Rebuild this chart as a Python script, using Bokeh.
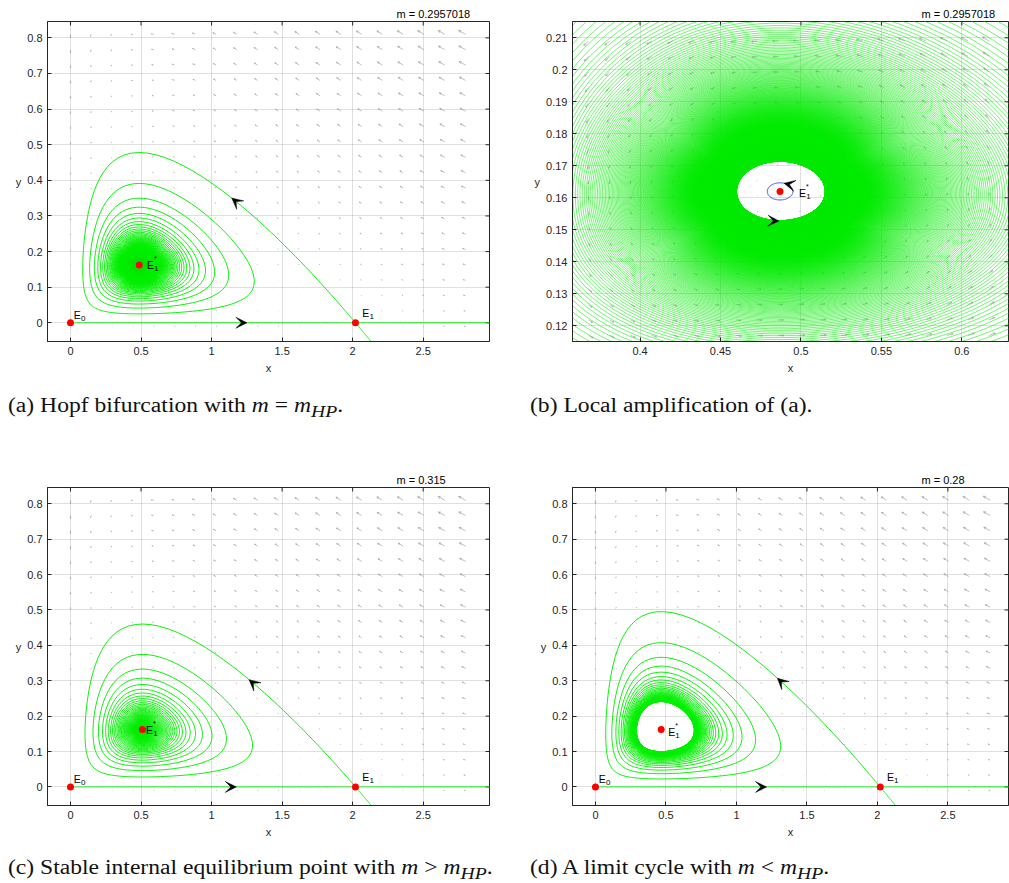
import time
import numpy as np
from bokeh.plotting import figure
from bokeh.layouts import column, row
from bokeh.models import Range1d, FixedTicker, Div, Arrow, VeeHead
from bokeh.core.properties import value
from bokeh.embed import file_html
from bokeh.resources import INLINE

# ------------------------------------------------------------------
# Values
# ------------------------------------------------------------------
m_values = [0.2957018, 0.2957018, 0.315, 0.28]            # panels a, b, c, d
m_texts = ["m = 0.2957018", "m = 0.2957018", "m = 0.315", "m = 0.28"]
caption_html = [
    "(a) Hopf bifurcation with <i>m</i> = <i>m</i><sub><i>HP</i></sub>.",
    "(b) Local amplification of (a).",
    "(c) Stable internal equilibrium point with <i>m</i> &gt; <i>m</i><sub><i>HP</i></sub>.",
    "(d) A limit cycle with <i>m</i> &lt; <i>m</i><sub><i>HP</i></sub>.",
]
E0_point = [0.0, 0.0]
E1_point = [2.02, 0.0]
E1_star_hopf = [0.487, 0.162]          # interior equilibrium at m = m_HP
E1_star_x = [0.487, 0.487, 0.51, 0.466]  # interior equilibrium x, per panel
E1_curve_slope = -0.47            # slope of the green curve through E1
hole_halfwidth_b = 0.028          # x half-width of the innermost green loop in (b)
blue_halfwidth_b = 0.008          # x half-width of the blue orbit in (b)
arrow_x_upper = [1.20, None, 1.31, 1.30]   # arrow on the curve leaving E1
arrow_x_axis = [1.23, None, 1.15, 1.18]    # arrow on the x axis
arrow_b_blue = [0.4895, 0.1645]
arrow_b_green = [0.4863, 0.1525]

x_ticks_full = [0, 0.5, 1, 1.5, 2, 2.5]
x_tick_labels_full = ["0", "0.5", "1", "1.5", "2", "2.5"]
y_ticks_full = [0, 0.1, 0.2, 0.3, 0.4, 0.5, 0.6, 0.7, 0.8]
y_tick_labels_full = ["0", "0.1", "0.2", "0.3", "0.4", "0.5", "0.6", "0.7", "0.8"]
x_ticks_zoom = [0.4, 0.45, 0.5, 0.55, 0.6]
x_tick_labels_zoom = ["0.4", "0.45", "0.5", "0.55", "0.6"]
y_ticks_zoom = [0.12, 0.13, 0.14, 0.15, 0.16, 0.17, 0.18, 0.19, 0.2, 0.21]
y_tick_labels_zoom = ["0.12", "0.13", "0.14", "0.15", "0.16", "0.17", "0.18", "0.19", "0.2", "0.21"]

x_range_full = [-0.163, 2.97]
x_range_d = [-0.163, 2.93]
y_range_full = [-0.0525, 0.846]
x_range_zoom = [0.358, 0.629]
y_range_zoom = [0.1151, 0.2151]

quiver_x_full = np.linspace(0.0, 2.8, 20)
quiver_y_full = np.linspace(-0.01, 0.81, 20)
quiver_x_zoom = np.linspace(0.368, 0.617, 20)
quiver_y_zoom = np.linspace(0.117, 0.209, 20)

# ------------------------------------------------------------------
# Predator-prey model whose parameters follow from the read values
# ------------------------------------------------------------------
m_hp = m_values[0]
K = E1_point[0]
xh, yh = E1_star_hopf
B = 1.0 / (K - 2.0 * xh)
Q = yh / ((1.0 - xh / K) * (1.0 + B * xh))
CA = m_hp / xh + m_hp * B


def death_rate(xstar):
    # predator loss rate that puts the interior equilibrium at xstar
    return CA * xstar / (1.0 + B * xstar)


def lam2(m):
    return CA * K / (1.0 + B * K) - m


R = lam2(m_hp) / (-E1_curve_slope * K / (Q * (1.0 + B * K)) - 1.0)
A = R / Q


def equilibrium(m):
    xs = m / (CA - m * B)
    return xs, Q * (1.0 - xs / K) * (1.0 + B * xs)


T0 = time.time()


def integrate(x, y, m, dt, nmax, xc=0.0, yc=None, amp_stop=None, max_loops=None,
              conv_tol=None, box=None, tlimit=22.0):
    X = [x]
    Y = [y]
    loops = 0
    last_amp = None
    h2 = dt * 0.5
    h6 = dt / 6.0
    for i in range(nmax):
        d = 1.0 + B * x
        k1x = R * x * (1.0 - x / K) - A * x * y / d
        k1y = y * (CA * x / d - m)
        xa = x + h2 * k1x
        ya = y + h2 * k1y
        d = 1.0 + B * xa
        k2x = R * xa * (1.0 - xa / K) - A * xa * ya / d
        k2y = ya * (CA * xa / d - m)
        xa = x + h2 * k2x
        ya = y + h2 * k2y
        d = 1.0 + B * xa
        k3x = R * xa * (1.0 - xa / K) - A * xa * ya / d
        k3y = ya * (CA * xa / d - m)
        xa = x + dt * k3x
        ya = y + dt * k3y
        d = 1.0 + B * xa
        k4x = R * xa * (1.0 - xa / K) - A * xa * ya / d
        k4y = ya * (CA * xa / d - m)
        xn = x + h6 * (k1x + 2.0 * k2x + 2.0 * k3x + k4x)
        yn = y + h6 * (k1y + 2.0 * k2y + 2.0 * k3y + k4y)
        stop = False
        if yc is not None and y < yc <= yn and xn > xc:
            amp = xn - xc
            loops += 1
            if amp_stop is not None and amp < amp_stop:
                stop = True
            if max_loops is not None and loops >= max_loops:
                stop = True
            if conv_tol is not None and last_amp is not None and abs(last_amp - amp) < conv_tol:
                stop = True
            last_amp = amp
        if box is not None and not (box[0] <= xn <= box[1] and box[2] <= yn <= box[3]):
            stop = True
        if (i & 8191) == 0 and time.time() - T0 > tlimit:
            stop = True
        x, y = xn, yn
        X.append(x)
        Y.append(y)
        if stop:
            break
    return np.array(X), np.array(Y), loops, last_amp


def manifold_start(m, sign):
    l2 = lam2(m)
    vx = -(A * K / (1.0 + B * K)) / (R + l2)
    eps = 1e-6
    return K + sign * vx * eps, sign * eps


rates = [death_rate(xv) for xv in E1_star_x]
traj = {}
for key, m, kw in [("hp", rates[0], dict(amp_stop=hole_halfwidth_b, tlimit=18.0)),
                   ("c", rates[2], dict(amp_stop=0.004, max_loops=3000, tlimit=23.0)),
                   ("d", rates[3], dict(conv_tol=3e-5, max_loops=3000, tlimit=27.0))]:
    xs_, ys_ = equilibrium(m)
    sx0, sy0 = manifold_start(m, +1)
    X, Y, nl, la = integrate(sx0, sy0, m, 0.3, 3000000, xc=xs_, yc=ys_, **kw)
    sx1, sy1 = manifold_start(m, -1)
    Xn, Yn, _, _ = integrate(sx1, sy1, m, 0.05, 20000, box=[-1, 3.3, -0.2, 1.0], tlimit=60)
    XL, YL, _, _ = integrate(1e-3, 0.0, m, 0.3, 800, tlimit=60)
    XR, YR, _, _ = integrate(3.3, 0.0, m, 0.3, 800, tlimit=60)
    traj[key] = dict(X=X, Y=Y, Xn=Xn, Yn=Yn, XL=XL, YL=YL, XR=XR, YR=YR, eq=(xs_, ys_), m=m)

# blue orbit in (b)
Xb, Yb, _, _ = integrate(xh + blue_halfwidth_b, yh, rates[1], 0.05, 200000, xc=xh, yc=yh,
                         max_loops=1, tlimit=60)

# ------------------------------------------------------------------
# Drawing helpers
# ------------------------------------------------------------------
AX = "#262626"
GREEN = "#00f000"
LW = 0.95
GREEN_B = "#00ea00"
LW_B = 0.55
TICK_FONT = "Liberation Sans"


def make_fig(width, height, xr, yr, mbl, mbr, mbt, mbb, xt, xtl, yt, ytl, mtext):
    p = figure(width=width, height=height, x_range=Range1d(*xr), y_range=Range1d(*yr),
               output_backend="svg", toolbar_location=None, title=mtext,
               min_border_left=mbl, min_border_right=mbr, min_border_top=mbt,
               min_border_bottom=mbb)
    p.title.align = "left"
    p.title.offset = 349
    p.title.text_font = TICK_FONT
    p.title.text_font_size = "11px"
    p.title.text_font_style = "normal"
    p.title.text_color = "#000000"
    p.title.standoff = 3
    p.outline_line_color = AX
    p.outline_line_width = 1
    p.background_fill_color = "white"
    p.border_fill_color = "white"

    def style_axis(ax, ticks, labels):
        ax.ticker = FixedTicker(ticks=ticks)
        ax.axis_line_color = AX
        ax.major_tick_line_color = AX
        ax.major_tick_in = 4
        ax.major_tick_out = 0
        ax.minor_tick_line_color = None
        ax.major_label_overrides = dict(zip(ticks, labels))
        ax.major_label_text_font = TICK_FONT
        ax.major_label_text_font_size = "11px"
        ax.major_label_text_color = "#262626"
        ax.major_label_standoff = 5
        ax.axis_label_text_font = TICK_FONT
        ax.axis_label_text_font_size = "11px"
        ax.axis_label_text_font_style = "normal"
        ax.axis_label_text_color = "#262626"

    style_axis(p.xaxis[0], xt, xtl)
    style_axis(p.yaxis[0], yt, ytl)
    p.xaxis[0].axis_label = "x"
    p.xaxis[0].axis_label_standoff = 4
    p.yaxis[0].axis_label = "y"
    p.yaxis[0].axis_label_standoff = 3
    p.yaxis[0].axis_label_orientation = "horizontal"
    p.xgrid.ticker = FixedTicker(ticks=xt)
    p.ygrid.ticker = FixedTicker(ticks=yt)
    p.xgrid.grid_line_color = AX
    p.ygrid.grid_line_color = AX
    p.xgrid.grid_line_alpha = 0.14
    p.ygrid.grid_line_alpha = 0.14
    # mirrored inward ticks on the top and right edges of the box
    fw = width - mbl - mbr
    fh = height - mbt - mbb
    sx = fw / (xr[1] - xr[0])
    sy = fh / (yr[1] - yr[0])
    p.segment(x0=xt, y0=[yr[1]] * len(xt), x1=xt, y1=[yr[1] - 4.0 / sy] * len(xt),
              line_color=AX, line_width=1)
    p.segment(x0=[xr[1]] * len(yt), y0=yt, x1=[xr[1] - 4.0 / sx] * len(yt), y1=yt,
              line_color=AX, line_width=1)
    return p


def add_quiver(p, m, gx, gy, sx, sy, lmax=8.0):
    GX, GY = np.meshgrid(gx, gy)
    d = 1.0 + B * GX
    U = R * GX * (1.0 - GX / K) - A * GX * GY / d
    V = GY * (CA * GX / d - m)
    pu = U * sx
    pv = V * sy
    mag = np.hypot(pu, pv)
    s = lmax / mag.max()
    pu = (pu * s).ravel()
    pv = (pv * s).ravel()
    x0 = GX.ravel()
    y0 = GY.ravel()
    shafts_x, shafts_y, heads_x, heads_y = [], [], [], []
    for i in range(len(x0)):
        L = np.hypot(pu[i], pv[i])
        x1 = x0[i] + pu[i] / sx
        y1 = y0[i] + pv[i] / sy
        shafts_x.append([x0[i], x1])
        shafts_y.append([y0[i], y1])
        if L > 0.5:
            ang = np.arctan2(pv[i], pu[i])
            hl = 0.35 * L
            bx1 = x1 - hl * np.cos(ang - 0.45) / sx
            by1 = y1 - hl * np.sin(ang - 0.45) / sy
            bx2 = x1 - hl * np.cos(ang + 0.45) / sx
            by2 = y1 - hl * np.sin(ang + 0.45) / sy
            heads_x.append([bx1, x1, bx2])
            heads_y.append([by1, y1, by2])
    p.multi_line(shafts_x, shafts_y, line_color="#a3a3a3", line_width=0.7)
    p.multi_line(heads_x, heads_y, line_color="#a3a3a3", line_width=0.7)


def add_arrow(p, xs, ys, i, step=2):
    j = max(i - step, 0)
    p.add_layout(Arrow(end=VeeHead(size=11, fill_color="black", line_color="black", line_width=0.5),
                       x_start=xs[j], y_start=ys[j], x_end=xs[i], y_end=ys[i],
                       line_alpha=0.0))


def add_label(p, x, y, sub, sx, sy, dxp, dyp, star=False):
    # dxp, dyp: pixel offset of the "E" baseline-left from the point (dyp positive = down)
    ex = x + dxp / sx
    ey = y - dyp / sy
    p.text(x=[ex], y=[ey], text=["E"], text_font=value(TICK_FONT), text_font_size="10.5px",
           text_baseline="alphabetic", text_align="left", text_color="black")
    p.text(x=[ex + 7.2 / sx], y=[ey - 3.5 / sy], text=[sub], text_font=value(TICK_FONT),
           text_font_size="8px", text_baseline="alphabetic", text_align="left", text_color="black")
    if star:
        p.text(x=[ex + 7.0 / sx], y=[ey + 6.5 / sy], text=["*"], text_font=value(TICK_FONT),
               text_font_size="7px", text_baseline="alphabetic", text_align="left",
               text_color="black")


def add_dot(p, x, y):
    p.scatter([x], [y], size=7, color="red", line_color=None)


def first_index(arr, cond):
    idx = np.nonzero(cond(arr))[0]
    return int(idx[0]) if len(idx) else len(arr) - 1


# ------------------------------------------------------------------
# Full-view panels (a), (c), (d)
# ------------------------------------------------------------------

def full_panel(key, mtext, width, mbl, mbr, mbt, mbb, xr, star_off, ax_i):
    t = traj[key]
    p = make_fig(width, 380, xr, y_range_full, mbl, mbr, mbt, mbb,
                 x_ticks_full, x_tick_labels_full, y_ticks_full, y_tick_labels_full, mtext)
    fw = width - mbl - mbr
    fh = 380 - mbt - mbb
    sx = fw / (xr[1] - xr[0])
    sy = fh / (y_range_full[1] - y_range_full[0])
    add_quiver(p, t["m"], quiver_x_full, quiver_y_full, sx, sy)
    X, Y = t["X"], t["Y"]
    p.line(X, Y, line_color=GREEN, line_width=LW)
    p.line(t["Xn"], t["Yn"], line_color=GREEN, line_width=LW)
    p.line(t["XL"], t["YL"], line_color=GREEN, line_width=LW)
    p.line(t["XR"], t["YR"], line_color=GREEN, line_width=LW)
    iu = first_index(X, lambda a: a <= arrow_x_upper[ax_i])
    add_arrow(p, X, Y, iu)
    ia = first_index(t["XL"], lambda a: a >= arrow_x_axis[ax_i])
    add_arrow(p, t["XL"], t["YL"], ia, step=1)
    xs_, ys_ = t["eq"]
    for (px, py) in [tuple(E0_point), tuple(E1_point), (xs_, ys_)]:
        add_dot(p, px, py)
    add_label(p, E0_point[0], E0_point[1], "0", sx, sy, 3.3, -8.0)
    add_label(p, E1_point[0], E1_point[1], "1", sx, sy, 6.7, -10.0)
    add_label(p, xs_, ys_, "1", sx, sy, star_off[0], star_off[1], star=True)
    return p


pa = full_panel("hp", m_texts[0], 520, 47, 31, 21, 39, x_range_full, (7.7, 0.0), 0)
pc = full_panel("c", m_texts[2], 520, 47, 31, 21, 41, x_range_full, (3.6, 0.0), 2)
pd = full_panel("d", m_texts[3], 489, 52, 1, 21, 41, x_range_d, (7.0, 2.0), 3)

# ------------------------------------------------------------------
# Zoom panel (b)
# ------------------------------------------------------------------
pb = make_fig(489, 380, x_range_zoom, y_range_zoom, 52, 1, 21, 39,
              x_ticks_zoom, x_tick_labels_zoom, y_ticks_zoom, y_tick_labels_zoom, m_texts[1])
sxb = 436.0 / (x_range_zoom[1] - x_range_zoom[0])
syb = 320.0 / (y_range_zoom[1] - y_range_zoom[0])
add_quiver(pb, rates[1], quiver_x_zoom, quiver_y_zoom, sxb, syb)
th = traj["hp"]
Xz = th["X"].copy()
Yz = th["Y"].copy()
padx = 0.3 * (x_range_zoom[1] - x_range_zoom[0])
pady = 0.3 * (y_range_zoom[1] - y_range_zoom[0])
outside = ((Xz < x_range_zoom[0] - padx) | (Xz > x_range_zoom[1] + padx) |
           (Yz < y_range_zoom[0] - pady) | (Yz > y_range_zoom[1] + pady))
Xz[outside] = np.nan
Yz[outside] = np.nan
pb.line(Xz, Yz, line_color=GREEN_B, line_width=LW_B)
pb.line(Xb, Yb, line_color="#2233ee", line_width=0.9)
n_tail = min(len(th["X"]), 4000)
tx = th["X"][-n_tail:]
ty = th["Y"][-n_tail:]
dist = np.hypot((tx - arrow_b_green[0]) * sxb, (ty - arrow_b_green[1]) * syb)
ig = int(np.argmin(dist))
add_arrow(pb, tx, ty, ig, step=1)
dist = np.hypot((Xb - arrow_b_blue[0]) * sxb, (Yb - arrow_b_blue[1]) * syb)
ib = int(np.argmin(dist))
add_arrow(pb, Xb, Yb, ib, step=3)
add_dot(pb, xh, yh)
add_label(pb, xh, yh, "1", sxb, syb, 19.0, 1.7, star=True)

# ------------------------------------------------------------------
# Captions and layout
# ------------------------------------------------------------------


def caption(html, width, height, pad_left, pad_top):
    return Div(text=(f'<div style="font-family:\'Liberation Serif\',serif;font-size:20px;'
                     f'line-height:22px;color:#111111;white-space:nowrap;'
                     f'padding-left:{pad_left}px;padding-top:{pad_top}px;">'
                     f'<span style="display:inline-block;transform:scaleX(1.18);'
                     f'transform-origin:0 50%;">{html}</span></div>'),
               width=width, height=height, margin=(0, 0, 0, 0))


ca = caption(caption_html[0], 520, 86, 8, 14)
cb = caption(caption_html[1], 489, 86, 10, 14)
cc = caption(caption_html[2], 520, 37, 8, 10)
cd = caption(caption_html[3], 489, 37, 10, 10)

layout = column(row(pa, pb, spacing=0), row(ca, cb, spacing=0),
                row(pc, pd, spacing=0), row(cc, cd, spacing=0), spacing=0)

with open("out.html", "w") as f:
    f.write(file_html(layout, INLINE))
